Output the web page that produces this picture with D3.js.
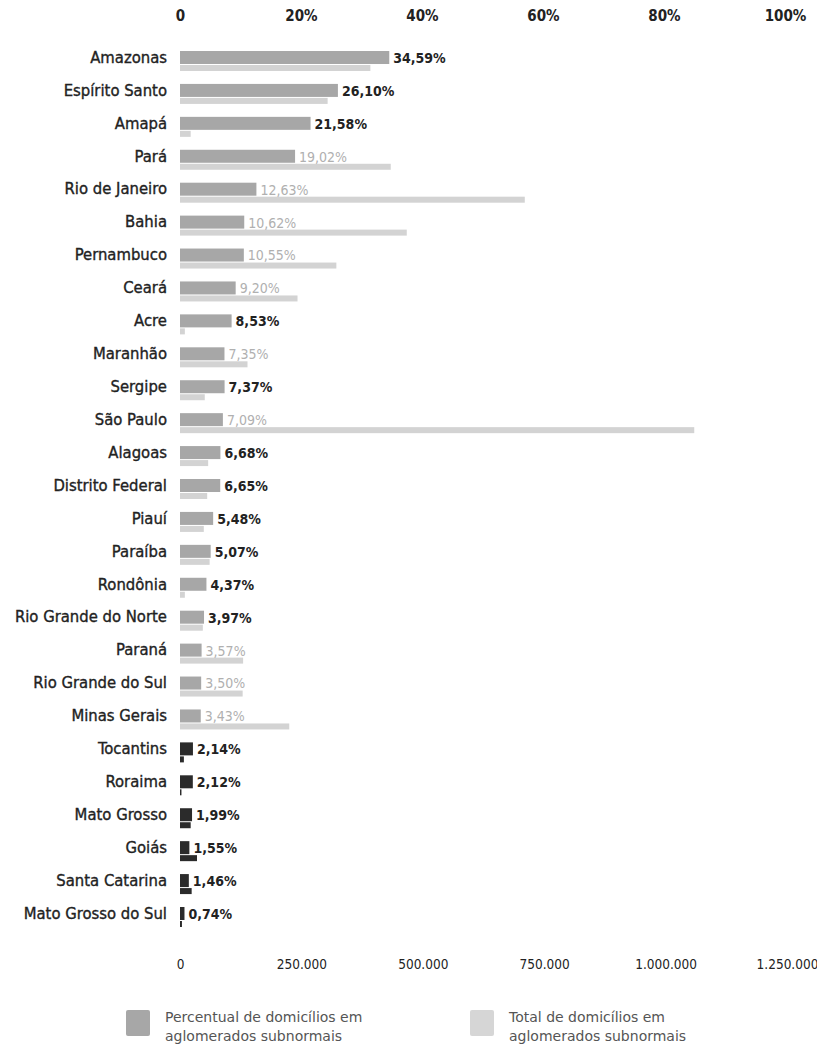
<!DOCTYPE html>
<html>
<head>
<meta charset="utf-8">
<script src="https://cdn.jsdelivr.net/npm/d3@7"></script>
<style>
  body { margin: 0; background: #fff; }
  svg text { font-family: "DejaVu Sans Condensed", "DejaVu Sans", sans-serif; }
</style>
</head>
<body>
<div id="chart"></div>
<script>
const states = ["Amazonas", "Espírito Santo", "Amapá", "Pará", "Rio de Janeiro", "Bahia", "Pernambuco",
  "Ceará", "Acre", "Maranhão", "Sergipe", "São Paulo", "Alagoas", "Distrito Federal", "Piauí", "Paraíba",
  "Rondônia", "Rio Grande do Norte", "Paraná", "Rio Grande do Sul", "Minas Gerais", "Tocantins",
  "Roraima", "Mato Grosso", "Goiás", "Santa Catarina", "Mato Grosso do Sul"];
const percent = [34.59, 26.10, 21.58, 19.02, 12.63, 10.62, 10.55, 9.20, 8.53, 7.35, 7.37, 7.09, 6.68,
  6.65, 5.48, 5.07, 4.37, 3.97, 3.57, 3.50, 3.43, 2.14, 2.12, 1.99, 1.55, 1.46, 0.74];
const totals = [392000, 304000, 22000, 434000, 710000, 467000, 322000, 242000, 10000, 139000, 51000,
  1059000, 58000, 56000, 49000, 61000, 10000, 47000, 130000, 129000, 225000, 8000, 3000, 22000,
  35000, 24000, 4000];
// the last group is printed in black in the original
const darkStates = ["Tocantins", "Roraima", "Mato Grosso", "Goiás", "Santa Catarina", "Mato Grosso do Sul"];
const pctTicks = [0, 20, 40, 60, 80, 100];
const totalTicks = [0, 250000, 500000, 750000, 1000000, 1250000];

const data = states.map((s, i) => ({ state: s, pct: percent[i], total: totals[i] }));

const width = 817, height = 1045;
const svg = d3.select("#chart").append("svg")
  .attr("width", width).attr("height", height);

const xPct = d3.scaleLinear().domain([0, 100]).range([180, 785]);
const xTot = d3.scaleLinear().domain([0, 1250000]).range([180, 787]);
const y = d3.scalePoint().domain(states).range([57, 913]);

const fmtPct = v => v.toFixed(2).replace(".", ",") + "%";
const fmtNum = v => v === 0 ? "0" : d3.format(",")(v).replace(/,/g, ".");

// top axis (percent)
const topAxis = d3.axisTop(xPct).tickValues(pctTicks)
  .tickFormat(d => d === 0 ? "0" : d + "%").tickSize(0).tickPadding(0);
svg.append("g").attr("transform", "translate(0,21)").call(topAxis)
  .call(g => g.select(".domain").remove())
  .selectAll("text").attr("font-size", 15).attr("font-weight", "bold").attr("fill", "#222");

// bottom axis (totals)
const bottomAxis = d3.axisBottom(xTot).tickValues(totalTicks)
  .tickFormat(fmtNum).tickSize(0).tickPadding(0);
svg.append("g").attr("transform", "translate(0,959)").call(bottomAxis)
  .call(g => g.select(".domain").remove())
  .selectAll("text").attr("font-size", 13.5).attr("fill", "#222");

// state labels
svg.append("g").selectAll("text").data(data).join("text")
  .attr("x", 167).attr("y", d => y(d.state)).attr("dy", "0.35em")
  .attr("text-anchor", "end").attr("font-size", 16.5)
  .attr("fill", "#222").attr("stroke", "#222").attr("stroke-width", 0.35)
  .text(d => d.state);

const isDark = d => darkStates.includes(d.state);
const isFaded = d => !isDark(d) && xTot(d.total) > xPct(d.pct) + 4;

// total bars (below)
svg.append("g").selectAll("rect").data(data).join("rect")
  .attr("x", xTot(0)).attr("y", d => y(d.state) + 8)
  .attr("width", d => xTot(d.total) - xTot(0)).attr("height", 6)
  .attr("fill", d => isDark(d) ? "#2b2b2b" : "#d3d3d3");

// percent bars
svg.append("g").selectAll("rect").data(data).join("rect")
  .attr("x", xPct(0)).attr("y", d => y(d.state) - 6)
  .attr("width", d => xPct(d.pct) - xPct(0)).attr("height", 13)
  .attr("fill", d => isDark(d) ? "#2b2b2b" : "#a7a7a7");

// value labels
svg.append("g").selectAll("text").data(data).join("text")
  .attr("x", d => xPct(d.pct) + 4).attr("y", d => y(d.state) + 1).attr("dy", "0.35em")
  .attr("font-size", 14).attr("font-weight", d => isFaded(d) ? "normal" : "bold")
  .attr("fill", d => isFaded(d) ? "#b0b0b0" : "#222")
  .text(d => fmtPct(d.pct));

// legend
const legend = [
  { x: 126, color: "#a7a7a7", lines: ["Percentual de domicílios em", "aglomerados subnormais"] },
  { x: 470, color: "#d6d6d6", lines: ["Total de domicílios em", "aglomerados subnormais"] }
];
const lg = svg.append("g").selectAll("g").data(legend).join("g")
  .attr("transform", d => `translate(${d.x},1010)`);
lg.append("rect").attr("width", 24).attr("height", 26).attr("rx", 2).attr("fill", d => d.color);
lg.selectAll("text").data(d => d.lines).join("text")
  .attr("x", 39).attr("y", (d, i) => 7 + i * 19).attr("dy", "0.35em")
  .attr("font-size", 14).attr("fill", "#555").style("font-family", "'DejaVu Sans', sans-serif")
  .text(d => d);
</script>
</body>
</html>
